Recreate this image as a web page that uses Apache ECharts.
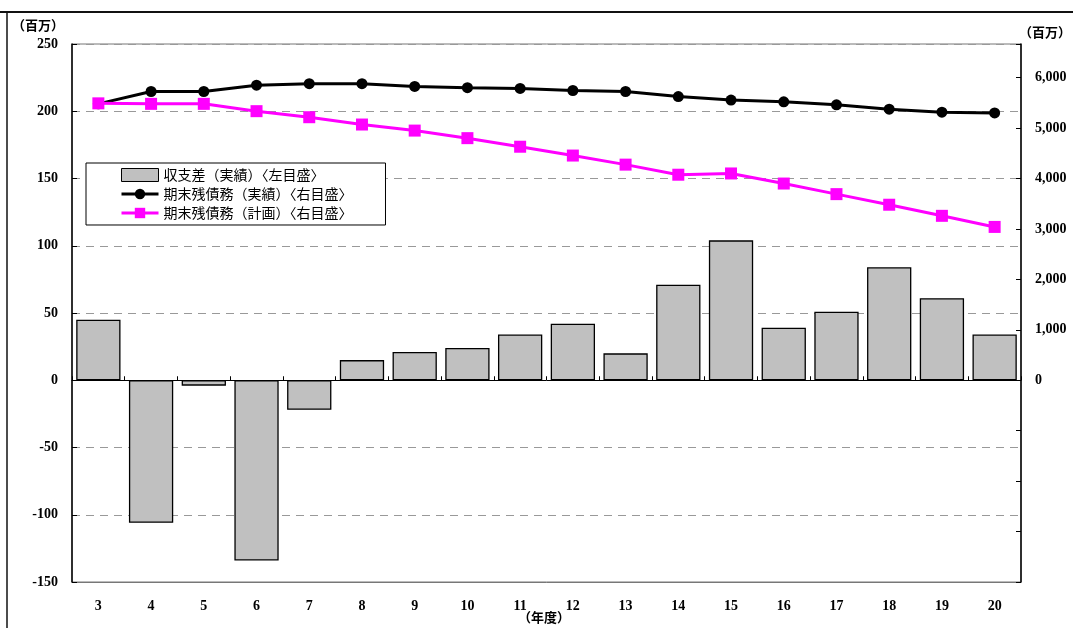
<!DOCTYPE html>
<html>
<head>
<meta charset="utf-8">
<script src="https://cdn.jsdelivr.net/npm/echarts@6/dist/echarts.min.js"></script>
<style>
html,body{margin:0;padding:0;background:#fff;}
#chart{width:1073px;height:628px;}
</style>
</head>
<body>
<div id="chart"></div>
<script>
const years = ['3','4','5','6','7','8','9','10','11','12','13','14','15','16','17','18','19','20'];
const balance = [45, -106, -4, -134, -22, 15, 21, 24, 34, 42, 20, 71, 104, 39, 51, 84, 61, 34];
const debtActual = [5480, 5725, 5725, 5850, 5880, 5880, 5825, 5800, 5785, 5745, 5725, 5625, 5555, 5520, 5460, 5375, 5315, 5300];
const debtPlan = [5490, 5480, 5480, 5335, 5215, 5070, 4950, 4800, 4630, 4455, 4275, 4075, 4100, 3900, 3690, 3480, 3260, 3040];
const seriesNames = ['収支差（実績）〈左目盛〉', '期末残債務（実績）〈右目盛〉', '期末残債務（計画）〈右目盛〉'];

const serif = '"Liberation Serif", "DejaVu Serif", serif';
const cjk = '"Noto Sans CJK JP", sans-serif';
const chart = echarts.init(document.getElementById('chart'));
chart.setOption({
  animation: false,
  backgroundColor: '#fff',
  grid: {left: 72, right: 52, top: 44, bottom: 46, show: true, borderColor: '#777', borderWidth: 1, backgroundColor: 'transparent'},
  graphic: [
    {type: 'line', shape: {x1: 0, y1: 12, x2: 1073, y2: 12}, style: {stroke: '#111', lineWidth: 2}},
    {type: 'line', shape: {x1: 7, y1: 12, x2: 7, y2: 628}, style: {stroke: '#111', lineWidth: 1.5}},
    {type: 'text', left: 12, top: 19, style: {text: '（百万）', font: 'bold 13px ' + cjk, fill: '#000'}},
    {type: 'text', left: 1019, top: 26, style: {text: '（百万）', font: 'bold 13px ' + cjk, fill: '#000'}},
    {type: 'text', left: 518, top: 611, style: {text: '（年度）', font: 'bold 13px ' + cjk, fill: '#000'}}
  ],
  legend: {
    orient: 'vertical', left: 86, top: 163,
    data: [
      {name: seriesNames[0], icon: 'rect', itemStyle: {color: '#c0c0c0', borderColor: '#000', borderWidth: 1}},
      {name: seriesNames[1], lineStyle: {width: 3, color: '#000'}},
      {name: seriesNames[2], lineStyle: {width: 3, color: '#ff00ff'}}
    ],
    backgroundColor: '#fff', borderColor: '#000', borderWidth: 1,
    padding: [5, 33, 5, 34], itemGap: 5, itemWidth: 37, itemHeight: 13,
    textStyle: {fontFamily: cjk, fontSize: 14, color: '#000'}
  },
  xAxis: [
    {
      type: 'category', data: years, position: 'bottom',
      axisLine: {onZero: false, show: true, lineStyle: {color: '#777'}},
      axisTick: {show: false},
      axisLabel: {fontFamily: serif, fontWeight: 'bold', fontSize: 14, color: '#000', margin: 17}
    },
    {
      type: 'category', data: years, position: 'bottom',
      axisLine: {onZero: true, onZeroAxisIndex: 0, show: true, lineStyle: {color: '#000', width: 1}},
      axisTick: {show: true, inside: true, length: 4, lineStyle: {color: '#000'}},
      axisLabel: {show: false},
      splitLine: {show: false}
    }
  ],
  yAxis: [
    {
      type: 'value', min: -150, max: 250, interval: 50, position: 'left',
      axisLine: {show: true, lineStyle: {color: '#000', width: 1.5}},
      axisTick: {show: true, inside: true, length: 5, lineStyle: {color: '#000'}},
      axisLabel: {fontFamily: serif, fontWeight: 'bold', fontSize: 14, color: '#000', margin: 14},
      splitLine: {show: true, lineStyle: {color: '#999', type: [8, 6], width: 1}}
    },
    {
      type: 'value', min: -4000, max: 20000 / 3, interval: 1000, position: 'right',
      axisLine: {show: true, lineStyle: {color: '#000', width: 1.5}},
      axisTick: {show: true, inside: true, length: 5, lineStyle: {color: '#000'}},
      axisLabel: {
        fontFamily: serif, fontWeight: 'bold', fontSize: 14, color: '#000', margin: 14,
        formatter: function (v) {
          if (v < 0 || Math.abs(v % 1000) > 1e-6 || v > 6000) return '';
          return v.toLocaleString('en-US');
        }
      },
      splitLine: {show: false}
    }
  ],
  series: [
    {
      name: seriesNames[0], type: 'bar', xAxisIndex: 0, yAxisIndex: 0,
      data: balance, barWidth: '84%',
      itemStyle: {color: '#c0c0c0', borderColor: '#000', borderWidth: 1.3},
      z: 2
    },
    {
      name: seriesNames[1], type: 'line', xAxisIndex: 0, yAxisIndex: 1,
      data: debtActual, symbol: 'circle', symbolSize: 11,
      lineStyle: {color: '#000', width: 3}, itemStyle: {color: '#000'},
      z: 4
    },
    {
      name: seriesNames[2], type: 'line', xAxisIndex: 0, yAxisIndex: 1,
      data: debtPlan, symbol: 'rect', symbolSize: 12,
      lineStyle: {color: '#ff00ff', width: 3}, itemStyle: {color: '#ff00ff'},
      z: 5
    }
  ]
});
</script>
</body>
</html>
